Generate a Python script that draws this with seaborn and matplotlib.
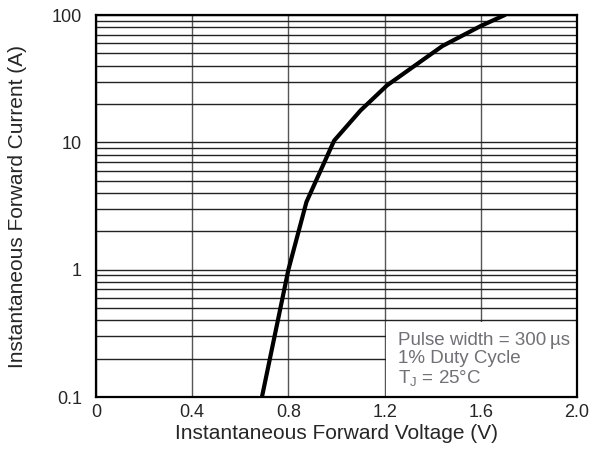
import numpy as np
import pandas as pd
import matplotlib
matplotlib.use("Agg")
import matplotlib.pyplot as plt
import seaborn as sns
from matplotlib.patches import Rectangle
from matplotlib.ticker import FixedLocator, LogLocator, NullFormatter

# forward voltage (V) vs forward current (A)
voltage = [0.69, 0.80, 0.875, 0.99, 1.10, 1.21, 1.44, 1.60, 1.70]
current = [0.1, 1.0, 3.4, 10.3, 17.8, 28.0, 57.0, 82.0, 100.0]

x_ticks = [0, 0.4, 0.8, 1.2, 1.6, 2.0]
x_labels = ["0", "0.4", "0.8", "1.2", "1.6", "2.0"]
y_ticks = [0.1, 1, 10, 100]
y_labels = ["0.1", "1", "10", "100"]

df = pd.DataFrame({"V": voltage, "I": current})

sns.set_style("white")
plt.rcParams["font.family"] = ["Liberation Sans", "DejaVu Sans"]

fig = plt.figure(figsize=(5.93, 4.69), dpi=100)
ax = fig.add_axes([96 / 593, 72 / 469, 481 / 593, 382 / 469])

sns.lineplot(data=df, x="V", y="I", sort=False, color="black", linewidth=3, ax=ax)

ax.set_yscale("log")
ax.set_xlim(0, 2.0)
ax.set_ylim(0.1, 100)

ax.xaxis.set_major_locator(FixedLocator(x_ticks))
ax.set_xticklabels(x_labels)
ax.yaxis.set_major_locator(FixedLocator(y_ticks))
ax.set_yticklabels(y_labels)
ax.yaxis.set_minor_locator(LogLocator(base=10, subs=np.arange(2, 10)))
ax.yaxis.set_minor_formatter(NullFormatter())

ax.grid(True, which="major", axis="x", color="#555555", linewidth=1)
ax.grid(True, which="both", axis="y", color="#222222", linewidth=1)
ax.tick_params(which="both", length=0, labelsize=13)
ax.tick_params(axis="x", pad=5)
ax.tick_params(axis="y", pad=10)

for s in ax.spines.values():
    s.set_color("black")
    s.set_linewidth(1.6)
    s.set_zorder(5)

ax.set_xlabel("Instantaneous Forward Voltage (V)", fontsize=15, labelpad=2)
ax.set_ylabel("Instantaneous Forward Current (A)", fontsize=15, labelpad=18)

# white panel behind the test conditions, hides the grid there
ax.add_patch(Rectangle((1.205, 0.1), 0.795, 0.285, facecolor="white",
                       edgecolor="none", zorder=3))
ax.text(1.255, 0.325, "Pulse width = 300\u2009\u00b5s\n1% Duty Cycle\nT$_\\mathregular{J}$ = 25\u00b0C",
        ha="left", va="top", fontsize=13.5, color="#707076", linespacing=1.12,
        zorder=4)

fig.savefig("out.png", dpi=100)
